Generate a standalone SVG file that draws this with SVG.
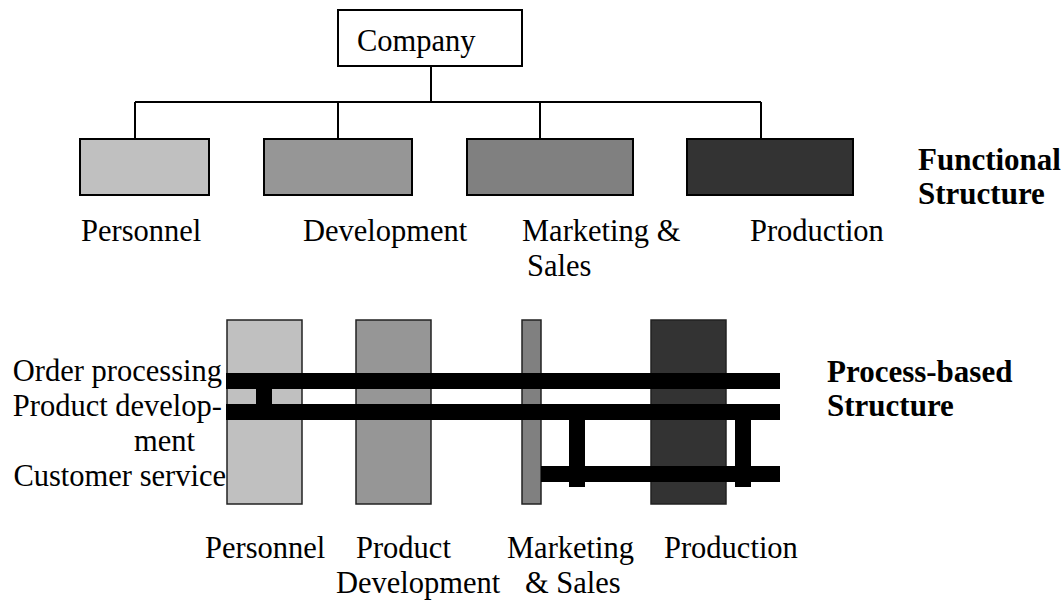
<svg xmlns="http://www.w3.org/2000/svg" width="1064" height="601" viewBox="0 0 1064 601">
<style>
text{font-family:"Liberation Serif","Times New Roman",serif;font-size:30.5px;fill:#000}
.b{font-weight:bold;font-size:31px}
.box{stroke:#000;stroke-width:2}
.col{stroke:#222;stroke-width:1.5}
.ln{stroke:#000;stroke-width:2;fill:none}
.bar{fill:#000}
</style>
<rect width="1064" height="601" fill="#fff"/>
<g id="company">
<rect class="box" x="338" y="10" width="184" height="56" fill="#fff"/>
<text x="357" y="51">Company</text>
</g>
<g id="connectors">
<path class="ln" d="M431,66 V102 M135,102 H761 M135,102 V139 M338,102 V139 M540,102 V139 M761,102 V139"/>
</g>
<g id="f-personnel">
<rect class="box" x="80" y="139" width="129" height="56" fill="#c0c0c0"/>
<text x="81" y="241">Personnel</text>
</g>
<g id="f-development">
<rect class="box" x="264" y="139" width="148" height="56" fill="#969696"/>
<text x="303" y="241">Development</text>
</g>
<g id="f-marketing">
<rect class="box" x="467" y="139" width="166" height="56" fill="#808080"/>
<text x="522" y="241">Marketing &amp;</text>
<text x="527" y="276">Sales</text>
</g>
<g id="f-production">
<rect class="box" x="687" y="139" width="166" height="56" fill="#333333"/>
<text x="750" y="241">Production</text>
</g>
<g id="functional-label">
<text class="b" x="918" y="170">Functional</text>
<text class="b" x="918" y="204">Structure</text>
</g>
<g id="p-columns">
<rect class="col" x="227" y="320" width="75" height="184" fill="#c0c0c0"/>
<rect class="col" x="356" y="320" width="75" height="184" fill="#969696"/>
<rect class="col" x="522" y="320" width="19" height="184" fill="#808080"/>
<rect class="col" x="651" y="320" width="75" height="184" fill="#333333"/>
</g>
<g id="processes">
<rect class="bar" x="226" y="373" width="554" height="16"/>
<rect class="bar" x="226" y="404" width="554" height="16"/>
<rect class="bar" x="541" y="466" width="239" height="16"/>
<rect class="bar" x="256" y="388" width="16" height="17"/>
<rect class="bar" x="569" y="419" width="16" height="68"/>
<rect class="bar" x="735" y="419" width="16" height="68"/>
</g>
<g id="process-labels" text-anchor="end">
<text x="222" y="381">Order processing</text>
<text x="222" y="416">Product develop-</text>
<text x="195" y="451">ment</text>
<text x="226" y="486">Customer service</text>
</g>
<g id="bottom-labels">
<text x="205" y="558">Personnel</text>
<text x="356" y="558">Product</text>
<text x="336" y="593">Development</text>
<text x="507" y="558">Marketing</text>
<text x="525" y="593">&amp; Sales</text>
<text x="664" y="558">Production</text>
</g>
<g id="process-label">
<text class="b" x="827" y="382">Process-based</text>
<text class="b" x="827" y="416">Structure</text>
</g>
</svg>
